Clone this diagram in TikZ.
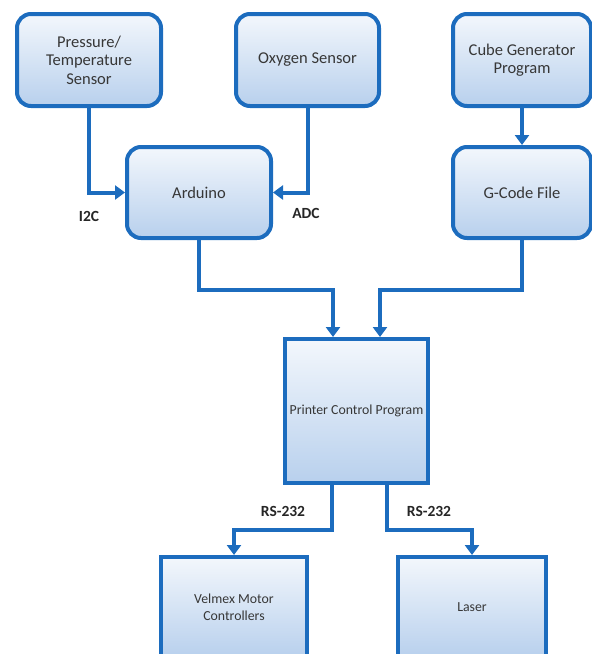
\documentclass[tikz,border=0pt]{standalone}
\usepackage{fontspec}
\setmainfont{Carlito}
\usetikzlibrary{arrows.meta, positioning, calc}
\definecolor{boxline}{RGB}{28,108,190}
\definecolor{boxtop}{RGB}{243,247,252}
\definecolor{boxbot}{RGB}{184,208,237}
\definecolor{txt}{RGB}{55,55,55}

\begin{document}
\begin{tikzpicture}[
  x=1pt, y=-1pt,
  blk/.style={draw=boxline, line width=4pt, top color=boxtop, bottom color=boxbot, align=center, text=txt, font=\fontsize{16.5}{18.5}\selectfont, inner sep=2pt},
  rblk/.style={blk, rounded corners=14pt},
  arrow/.style={draw=boxline, line width=4pt, -{Triangle[width=14pt, length=10pt]}},
  lbl/.style={font=\bfseries\fontsize{15.5}{17}\selectfont, text=black!85}
]
  \useasboundingbox (0,0) rectangle (592,654);

  \node[rblk, minimum width=144pt, minimum height=92pt] (press) at (89,60) {Pressure/\\Temperature\\Sensor};
  \node[rblk, minimum width=143pt, minimum height=92pt] (oxy) at (307.5,60) {Oxygen Sensor};
  \node[rblk, minimum width=138pt, minimum height=92pt] (cube) at (522,60) {Cube Generator\\Program};
  \node[rblk, minimum width=144pt, minimum height=91pt] (ard) at (199,192.5) {Arduino};
  \node[rblk, minimum width=138pt, minimum height=91pt] (gcode) at (522,192.5) {G-Code File};
  \node[blk, minimum width=143pt, minimum height=144pt, font=\fontsize{13.8}{17}\selectfont] (pcp) at (356.5,411) {Printer Control Program};
  \node[blk, minimum width=146pt, minimum height=100pt, font=\fontsize{13.8}{17}\selectfont] (vel) at (234,607) {Velmex Motor\\Controllers};
  \node[blk, minimum width=148pt, minimum height=100pt, font=\fontsize{13.8}{17}\selectfont] (laser) at (472,607) {Laser};

  \draw[arrow] (press.south) |- (ard.west);
  \draw[arrow] (oxy.south) |- (ard.east);
  \draw[arrow] (cube) -- (gcode);

  % inputs and outputs of the control program
  \coordinate (inL) at ($(pcp.north)+(-23.5,0)$);
  \coordinate (inR) at ($(pcp.north)+(23.5,0)$);
  \coordinate (outL) at ($(pcp.south)+(-24.5,0)$);
  \coordinate (outR) at ($(pcp.south)+(30,0)$);
  \draw[arrow] (ard.south) -- ++(0,50) -| (inL);
  \draw[arrow] (gcode.south) -- ++(0,50) -| (inR);
  \draw[arrow] (outL) -- ++(0,45) -| (vel.north);
  \draw[arrow] (outR) -- ++(0,45) -| (laser.north);

  \node[lbl] (i2c) at (89,216) {I2C};
  \node[lbl] (adc) at (306,213) {ADC};
  \node[lbl] (rsA) at (283,511) {RS-232};
  \node[lbl] (rsB) at (429,511) {RS-232};
\end{tikzpicture}
\end{document}
